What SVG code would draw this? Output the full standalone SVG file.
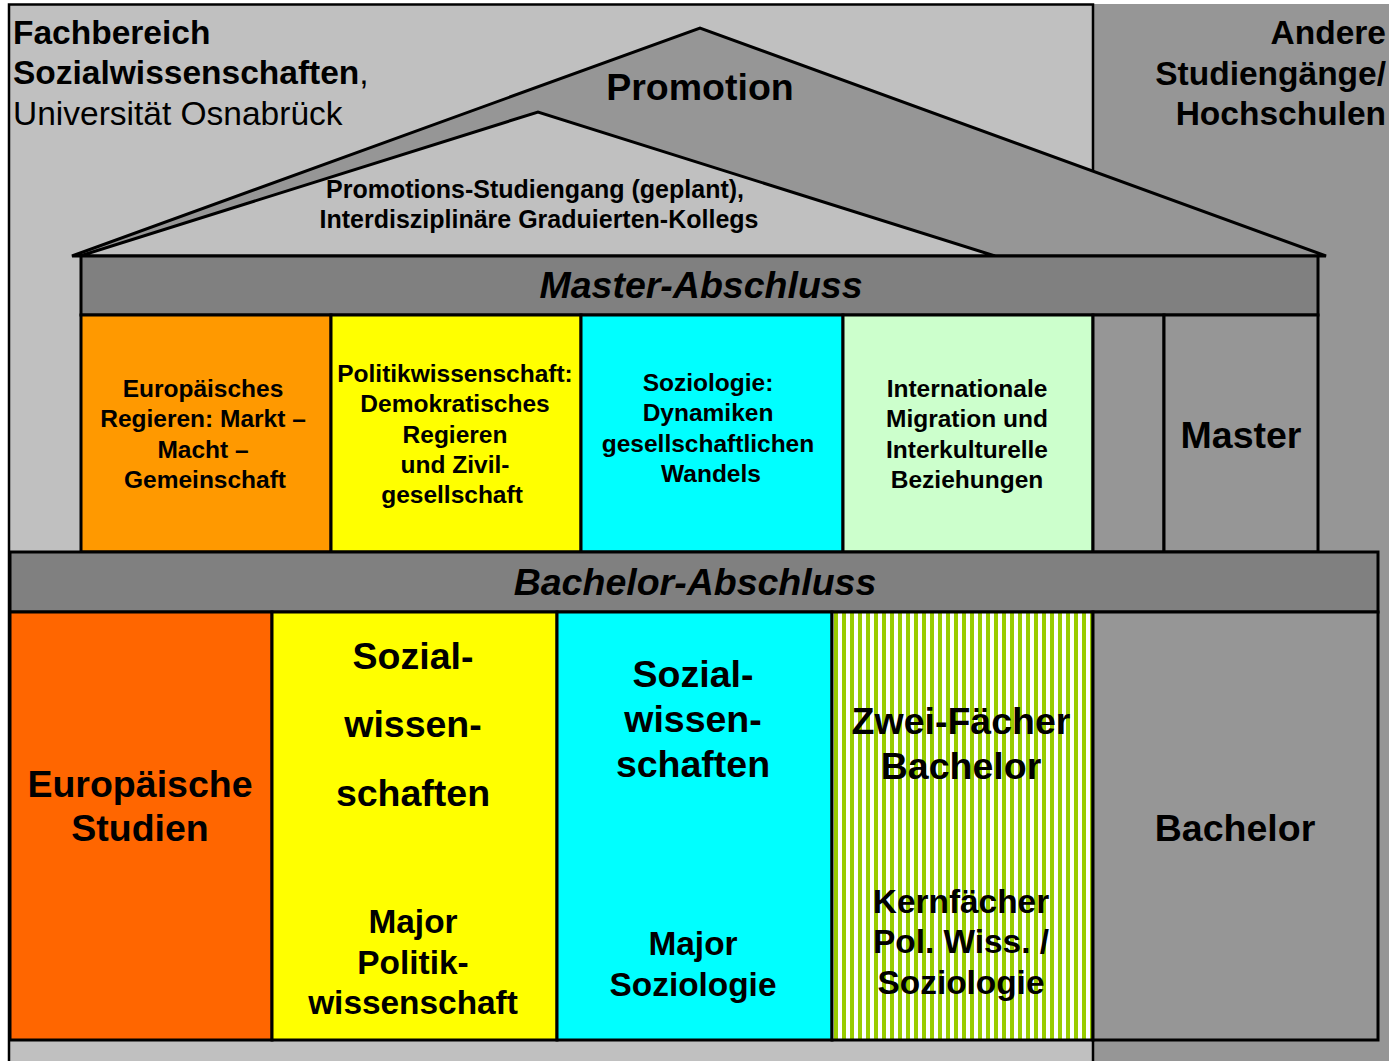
<svg xmlns="http://www.w3.org/2000/svg" width="1389" height="1061" viewBox="0 0 1389 1061">
<defs>
<pattern id="stripes" patternUnits="userSpaceOnUse" x="834" y="0" width="8" height="10">
<rect x="0" y="0" width="8" height="10" fill="#FFFFFF"/>
<rect x="0" y="0" width="4" height="10" fill="#99CC00"/>
</pattern>
<style>
text{font-family:"Liberation Sans",Arial,sans-serif;font-weight:bold;fill:#000;text-anchor:middle}
.cell{stroke:#000;stroke-width:3}
.s22{font-size:24.5px}
.s36{font-size:37.5px}
.s32{font-size:33.4px}
.bi{font-style:italic;font-size:37.5px}
.hd{font-size:33.5px}
.sub{font-size:25px}
</style>
</defs>
<rect x="0" y="0" width="1389" height="1061" fill="#FFFFFF"/>
<g id="andere">
<rect x="1093" y="4" width="296" height="1057" fill="#969696"/>
<text x="1386" y="44" class="hd" style="text-anchor:end">Andere</text>
<text x="1386" y="85" class="hd" style="text-anchor:end">Studiengänge/</text>
<text x="1386" y="125" class="hd" style="text-anchor:end">Hochschulen</text>
</g>
<g id="fachbereich">
<rect x="9" y="4.5" width="1084" height="1070" fill="#C0C0C0" stroke="#000" stroke-width="2.5"/>
<text x="13" y="44" class="hd" style="text-anchor:start">Fachbereich</text>
<text x="13" y="84" class="hd" style="text-anchor:start">Sozialwissenschaften<tspan style="font-weight:normal">,</tspan></text>
<text x="13" y="125" class="hd" style="text-anchor:start;font-weight:normal">Universität Osnabrück</text>
</g>
<g id="promotion">
<polygon points="72,256 700,28 1326,256" fill="#969696" stroke="#000" stroke-width="3"/>
<text x="700" y="100" class="s36">Promotion</text>
</g>
<g id="promotions-studiengang">
<polygon points="80,256 538,112 995,256" fill="#C0C0C0" stroke="#000" stroke-width="3"/>
<text x="535" y="198" class="sub">Promotions-Studiengang (geplant),</text>
<text x="539" y="228" class="sub">Interdisziplinäre Graduierten-Kollegs</text>
</g>
<g id="master-abschluss">
<rect x="81" y="256" width="1237" height="59" fill="#808080" class="cell"/>
<text x="701" y="298" class="bi">Master-Abschluss</text>
</g>
<g id="m-europa">
<rect x="81" y="315" width="250" height="237" fill="#FF9900" class="cell"/>
<text x="203" y="397" class="s22">Europäisches</text>
<text x="203" y="427" class="s22">Regieren: Markt –</text>
<text x="203" y="458" class="s22">Macht –</text>
<text x="205" y="488" class="s22">Gemeinschaft</text>
</g>
<g id="m-politik">
<rect x="331" y="315" width="250" height="237" fill="#FFFF00" class="cell"/>
<text x="455" y="382" class="s22">Politikwissenschaft:</text>
<text x="455" y="412" class="s22">Demokratisches</text>
<text x="455" y="443" class="s22">Regieren</text>
<text x="455" y="473" class="s22">und Zivil-</text>
<text x="452" y="503" class="s22">gesellschaft</text>
</g>
<g id="m-soziologie">
<rect x="581" y="315" width="262" height="237" fill="#00FFFF" class="cell"/>
<text x="708" y="391" class="s22">Soziologie:</text>
<text x="708" y="421" class="s22">Dynamiken</text>
<text x="708" y="452" class="s22">gesellschaftlichen</text>
<text x="711" y="482" class="s22">Wandels</text>
</g>
<g id="m-migration">
<rect x="843" y="315" width="250" height="237" fill="#CCFFCC" class="cell"/>
<text x="967" y="397" class="s22">Internationale</text>
<text x="967" y="427" class="s22">Migration und</text>
<text x="967" y="458" class="s22">Interkulturelle</text>
<text x="967" y="488" class="s22">Beziehungen</text>
</g>
<g id="m-leer">
<rect x="1093" y="315" width="71" height="237" fill="#969696" class="cell"/>
</g>
<g id="m-master">
<rect x="1164" y="315" width="154" height="237" fill="#969696" class="cell"/>
<text x="1241" y="448" class="s36">Master</text>
</g>
<g id="bachelor-abschluss">
<rect x="10" y="552" width="1368" height="60" fill="#808080" class="cell"/>
<text x="695" y="595" class="bi">Bachelor-Abschluss</text>
</g>
<g id="b-europa">
<rect x="10" y="612" width="262" height="428" fill="#FF6600" class="cell"/>
<text x="140" y="797" class="s36">Europäische</text>
<text x="140" y="841" class="s36">Studien</text>
</g>
<g id="b-politik">
<rect x="272" y="612" width="285" height="428" fill="#FFFF00" class="cell"/>
<text x="413" y="669" class="s36">Sozial-</text>
<text x="413" y="737" class="s36">wissen-</text>
<text x="413" y="806" class="s36">schaften</text>
<text x="413" y="933" class="s32">Major</text>
<text x="413" y="974" class="s32">Politik-</text>
<text x="413" y="1014" class="s32">wissenschaft</text>
</g>
<g id="b-soziologie">
<rect x="557" y="612" width="275" height="428" fill="#00FFFF" class="cell"/>
<text x="693" y="687" class="s36">Sozial-</text>
<text x="693" y="732" class="s36">wissen-</text>
<text x="693" y="777" class="s36">schaften</text>
<text x="693" y="955" class="s32">Major</text>
<text x="693" y="996" class="s32">Soziologie</text>
</g>
<g id="b-zweifach">
<rect x="832" y="612" width="261" height="428" fill="url(#stripes)" class="cell"/>
<text x="961" y="734" class="s36">Zwei-Fächer</text>
<text x="961" y="779" class="s36">Bachelor</text>
<text x="961" y="913" class="s32">Kernfächer</text>
<text x="961" y="953" class="s32">Pol. Wiss. /</text>
<text x="961" y="994" class="s32">Soziologie</text>
</g>
<g id="b-bachelor">
<rect x="1093" y="612" width="285" height="428" fill="#969696" class="cell"/>
<text x="1235" y="841" class="s36">Bachelor</text>
</g>
</svg>
